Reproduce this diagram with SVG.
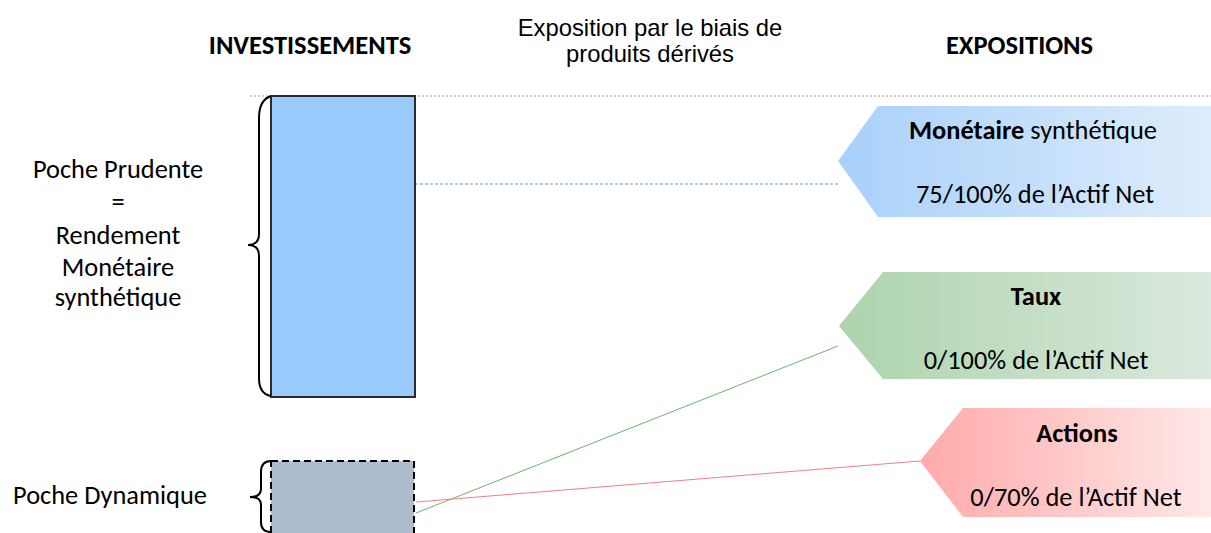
<svg xmlns="http://www.w3.org/2000/svg" width="1211" height="533" viewBox="0 0 1211 533">
<style>
.t{font-family:"Liberation Sans",Arial,sans-serif;fill:#000;text-anchor:middle}
.c{font-family:Carlito,"Liberation Sans",Arial,sans-serif;font-size:26.4px;fill:#000;text-anchor:middle}
.h{font-family:Carlito,"Liberation Sans",Arial,sans-serif;font-size:26.5px;font-weight:bold;fill:#000;text-anchor:middle}
.b{font-weight:bold}
.brace{fill:none;stroke:#000;stroke-width:2}
</style>
<defs>
<linearGradient id="gb" x1="0" y1="0" x2="1" y2="0"><stop offset="0" stop-color="#a9d0fa"/><stop offset="1" stop-color="#deedfc"/></linearGradient>
<linearGradient id="gg" x1="0" y1="0" x2="1" y2="0"><stop offset="0" stop-color="#acd4ac"/><stop offset="1" stop-color="#dbe8dd"/></linearGradient>
<linearGradient id="gr" x1="0" y1="0" x2="1" y2="0"><stop offset="0" stop-color="#ffaaaa"/><stop offset="1" stop-color="#ffe8e8"/></linearGradient>
</defs>

<g id="headers">
<text class="h" x="310" y="54">INVESTISSEMENTS</text>
<text class="t" x="650" y="36" font-size="23.8">Exposition par le biais de</text>
<text class="t" x="650" y="62" font-size="23.8">produits dérivés</text>
<text class="h" x="1019.5" y="54">EXPOSITIONS</text>
</g>

<g id="connectors">
<line x1="250" y1="96" x2="1211" y2="96" stroke="#a0a0a0" stroke-width="1" stroke-dasharray="2 2"/>
<line x1="415" y1="184" x2="838" y2="184" stroke="#5b9bd5" stroke-width="1" stroke-dasharray="3 2"/>
<line x1="416" y1="513" x2="838" y2="346" stroke="#70b070" stroke-width="1"/>
<line x1="416" y1="502" x2="920" y2="461" stroke="#f08080" stroke-width="1"/>
</g>

<g id="poche-prudente">
<rect x="271" y="96" width="144" height="301" fill="#99cbff" stroke="#2b2b2b" stroke-width="2"/>
<path class="brace" d="M271,96 Q259,100 259,118 L259,234 Q259,245 248,245 Q259,245 259,256 L259,378 Q259,394 271,396"/>
<text class="c" x="118" y="178">Poche Prudente</text>
<text class="c" x="118" y="211">=</text>
<text class="c" x="118" y="244">Rendement</text>
<text class="c" x="118" y="276">Monétaire</text>
<text class="c" x="118" y="306">synthétique</text>
</g>

<g id="poche-dynamique">
<rect x="271" y="461" width="143" height="80" fill="#adbdce" stroke="#000" stroke-width="2" stroke-dasharray="7 4"/>
<path class="brace" d="M271,461 Q261,461 261,472 L261,489 Q261,497 250,497 Q261,497 261,505 L261,522 Q261,532 271,532"/>
<text class="c" x="110" y="504">Poche Dynamique</text>
</g>

<g id="monetaire">
<polygon points="878,106 1211,106 1211,217 878,217 838,161" fill="url(#gb)"/>
<text class="c" x="1033" y="139"><tspan class="b">Monétaire</tspan> synthétique</text>
<text class="c" x="1035" y="203">75/100% de l’Actif Net</text>
</g>

<g id="taux">
<polygon points="883,272 1211,272 1211,379 883,379 839,326" fill="url(#gg)"/>
<text class="c b" x="1036" y="305">Taux</text>
<text class="c" x="1036" y="369">0/100% de l’Actif Net</text>
</g>

<g id="actions">
<polygon points="963,408 1211,408 1211,517 963,517 920,461" fill="url(#gr)"/>
<text class="c b" x="1077" y="442">Actions</text>
<text class="c" x="1076" y="506">0/70% de l’Actif Net</text>
</g>
</svg>
